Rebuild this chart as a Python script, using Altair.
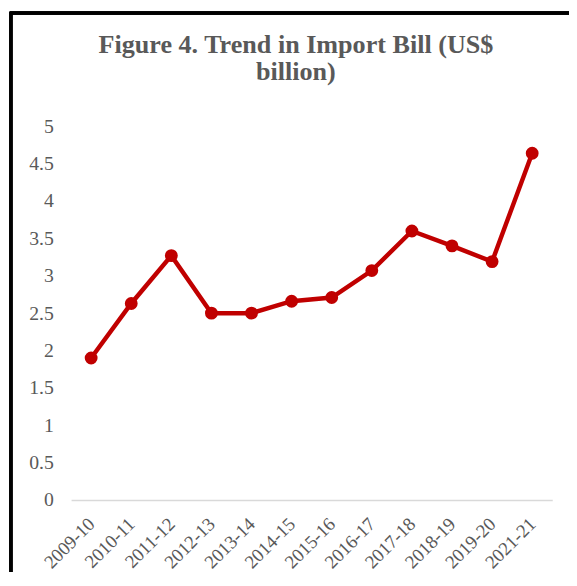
import altair as alt
import pandas as pd

years = ["2009-10", "2010-11", "2011-12", "2012-13", "2013-14", "2014-15",
         "2015-16", "2016-17", "2017-18", "2018-19", "2019-20", "2021-21"]
import_bill = [1.90, 2.63, 3.27, 2.50, 2.50, 2.66, 2.71, 3.07, 3.60, 3.40, 3.19, 4.64]
y_ticks = [0, 0.5, 1, 1.5, 2, 2.5, 3, 3.5, 4, 4.5, 5]

df = pd.DataFrame({"year": years, "value": import_bill})

RED = "#C00000"
GREY = "#595959"
FONT = "Liberation Serif"

x = alt.X("year:N", sort=years, title=None,
          scale=alt.Scale(paddingInner=0, paddingOuter=0),
          axis=alt.Axis(labelAngle=-45, labelAlign="right", labelBaseline="middle",
                        labelPadding=21, ticks=False, domain=True,
                        domainColor="#D9D9D9", domainWidth=1.5,
                        labelFont=FONT, labelFontSize=19, labelColor=GREY,
                        grid=False))
y = alt.Y("value:Q", title=None,
          scale=alt.Scale(domain=[0, 5], nice=False, zero=True),
          axis=alt.Axis(values=y_ticks, ticks=False, domain=False, grid=False,
                        format="~g",
                        labelFont=FONT, labelFontSize=20, labelColor=GREY,
                        labelPadding=18))

line = alt.Chart(df).mark_line(color=RED, strokeWidth=4.5).encode(x=x, y=y)
pts = alt.Chart(df).mark_point(filled=True, color=RED, opacity=1, size=170).encode(x=x, y=y)

frame = alt.Chart(df).mark_rect(fill=None, stroke="black", strokeWidth=2.5).encode(
    x=alt.value(-61), x2=alt.value(560), y=alt.value(-115), y2=alt.value(600)
)

chart = alt.layer(line, pts, frame).properties(
    width=488, height=379,
    padding={"left": 64, "top": 116, "right": 17, "bottom": 69},
    autosize=alt.AutoSizeParams(type="none"),
    title=alt.TitleParams(
        text=["Figure 4. Trend in Import Bill (US$", "billion)"],
        font=FONT, fontSize=26.5, fontWeight="bold", color=GREY,
        anchor="middle", frame="group", dx=-16, offset=-75, lineHeight=28,
    ),
).configure_view(stroke=None)

chart.save("out.html", embed_options={"renderer": "svg", "actions": False})
